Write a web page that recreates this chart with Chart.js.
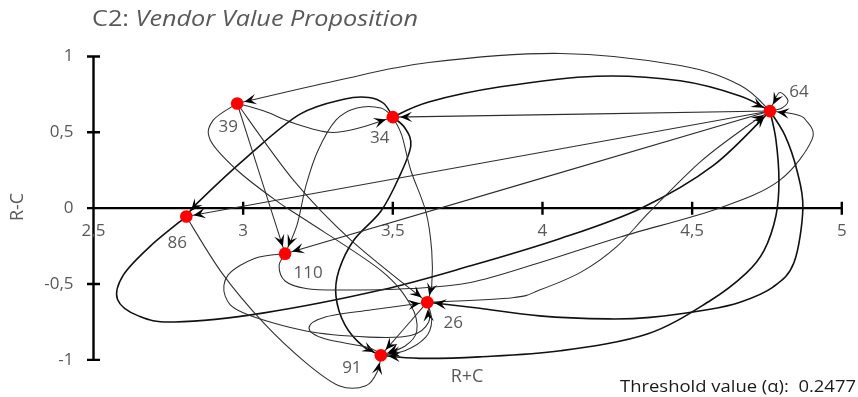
<!DOCTYPE html>
<html>
<head>
<meta charset="utf-8">
<script src="https://cdn.jsdelivr.net/npm/chart.js@4.4.1/dist/chart.umd.min.js"></script>
<style>
  html, body { margin: 0; padding: 0; background: #fff; }
  #wrap { width: 858px; height: 397px; }
</style>
</head>
<body>
<div id="wrap"><canvas id="chartMap"></canvas></div>
<script>
// Criteria (node ids) with their prominence (R+C) and relation (R-C)
const nodeIds = ["39", "34", "64", "86", "110", "26", "91"];
const rPlusC  = [2.98, 3.50, 4.76, 2.81, 3.14, 3.615, 3.46];
const rMinusC = [0.69, 0.60, 0.64, -0.055, -0.30, -0.62, -0.97];

const xTicks = [2.5, 3, 3.5, 4, 4.5, 5];
const yTicks = [-1, -0.5, 0, 0.5, 1];

// Influence relations above the threshold (from -> to)
const edgeFrom = ["64", "34", "64", "39", "34", "34", "34", "34", "64", "64", "86", "110",
                  "26", "64", "64", "64", "39", "39", "39", "86", "110", "91", "26", "26"];
const edgeTo   = ["39", "64", "34", "34", "86", "110", "91", "26", "86", "110", "64", "64",
                  "64", "26", "91", "64", "110", "26", "91", "91", "26", "26", "91", "91"];
const edgeStrong = [false, true, false, false, true, false, true, false, false, false, true, false,
                    false, true, true, false, false, false, false, false, false, false, false, false];
// Intermediate (R+C, R-C) points each curved relation passes through
const edgeBends = [
  [[4.66, 0.81], [4.46, 0.94], [4.06, 1.02], [3.62, 0.96], [3.31, 0.84]],
  [[3.62, 0.70], [3.86, 0.80], [4.18, 0.87], [4.46, 0.84], [4.66, 0.74]],
  [],
  [[3.07, 0.64], [3.17, 0.56], [3.29, 0.50], [3.39, 0.53]],
  [[3.47, 0.69], [3.42, 0.73], [3.34, 0.72], [3.19, 0.62], [3.02, 0.35], [2.85, 0.04]],
  [[3.46, 0.66], [3.38, 0.66], [3.31, 0.58], [3.25, 0.38], [3.21, 0.15], [3.18, -0.11]],
  [[3.54, 0.53], [3.56, 0.41], [3.52, 0.20], [3.46, -0.02], [3.37, -0.21], [3.32, -0.41], [3.31, -0.58], [3.34, -0.77], [3.40, -0.91]],
  [[3.53, 0.48], [3.56, 0.25], [3.61, -0.02], [3.63, -0.28], [3.63, -0.51]],
  [],
  [],
  [[2.69, -0.25], [2.60, -0.44], [2.58, -0.60], [2.65, -0.71], [2.77, -0.75], [3.07, -0.69], [3.46, -0.54], [3.76, -0.38], [4.06, -0.20], [4.33, 0.00], [4.57, 0.28]],
  [[3.12, -0.38], [3.14, -0.48], [3.21, -0.53], [3.32, -0.54], [3.56, -0.53], [3.76, -0.49], [3.99, -0.36], [4.26, -0.19], [4.59, 0.00], [4.79, 0.18], [4.90, 0.45], [4.88, 0.58], [4.84, 0.62]],
  [[3.90, -0.59], [3.99, -0.54], [4.13, -0.42], [4.25, -0.25], [4.36, -0.02], [4.53, 0.31], [4.69, 0.55]],
  [[4.81, 0.48], [4.85, 0.25], [4.87, 0.00], [4.84, -0.36], [4.77, -0.52], [4.66, -0.62], [4.55, -0.67], [4.36, -0.72], [4.22, -0.73], [3.99, -0.71], [3.79, -0.66], [3.66, -0.63]],
  [[4.78, 0.45], [4.79, 0.18], [4.78, -0.05], [4.74, -0.28], [4.68, -0.43], [4.56, -0.61], [4.35, -0.83], [4.06, -0.94], [3.79, -0.98], [3.59, -0.99]],
  [[4.80, 0.66], [4.82, 0.71], [4.79, 0.76]],
  [],
  [[3.17, 0.18], [3.36, -0.21]],
  [[2.90, 0.58], [2.89, 0.45], [2.98, 0.25], [3.11, 0.05], [3.21, -0.08], [3.46, -0.41], [3.56, -0.64], [3.58, -0.81], [3.54, -0.91]],
  [[2.93, -0.43], [3.07, -0.76], [3.21, -1.02], [3.32, -1.17], [3.41, -1.17], [3.45, -1.07]],
  [[3.04, -0.33], [2.95, -0.44], [2.94, -0.58], [3.00, -0.69], [3.21, -0.81], [3.42, -0.85], [3.56, -0.84], [3.62, -0.75]],
  [[3.42, -0.92], [3.27, -0.86], [3.22, -0.79], [3.27, -0.72], [3.43, -0.67]],
  [],
  [[3.63, -0.74], [3.61, -0.85], [3.54, -0.94]],
];

const GREY = "#595959";
const FONT = "'Open Sans', sans-serif";
const NODE_R = 6.3;

function fmt(v) {
  return String(v).replace(".", ",");
}

function nodePixel(id, xs, ys) {
  const i = nodeIds.indexOf(id);
  return [xs.getPixelForValue(rPlusC[i]), ys.getPixelForValue(rMinusC[i])];
}

// smooth curve through the points (Catmull-Rom turned into Bezier pieces)
function strokeSmooth(ctx, pts) {
  ctx.beginPath();
  ctx.moveTo(pts[0][0], pts[0][1]);
  for (let i = 0; i < pts.length - 1; i++) {
    const p0 = pts[Math.max(i - 1, 0)];
    const p1 = pts[i];
    const p2 = pts[i + 1];
    const p3 = pts[Math.min(i + 2, pts.length - 1)];
    ctx.bezierCurveTo(
      p1[0] + (p2[0] - p0[0]) / 6, p1[1] + (p2[1] - p0[1]) / 6,
      p2[0] - (p3[0] - p1[0]) / 6, p2[1] - (p3[1] - p1[1]) / 6,
      p2[0], p2[1]
    );
  }
  ctx.stroke();
}

function drawHead(ctx, tx, ty, ang) {
  const len = 12, half = 5.2, notch = 7;
  ctx.save();
  ctx.translate(tx, ty);
  ctx.rotate(ang);
  ctx.beginPath();
  ctx.moveTo(0, 0);
  ctx.lineTo(-len, -half);
  ctx.lineTo(-notch, 0);
  ctx.lineTo(-len, half);
  ctx.closePath();
  ctx.fill();
  ctx.restore();
}

// text squeezed or widened to a set width
function fitText(ctx, txt, x, y, width) {
  const w = ctx.measureText(txt).width;
  ctx.save();
  ctx.translate(x, y);
  ctx.scale(width / w, 1);
  ctx.fillText(txt, 0, 0);
  ctx.restore();
}

function drawAxes(ctx, xs, ys) {
  const x0 = xs.getPixelForValue(2.5);
  const y0 = ys.getPixelForValue(0);
  ctx.save();
  ctx.strokeStyle = "#000";
  ctx.lineWidth = 2.4;
  ctx.beginPath();
  ctx.moveTo(x0, ys.getPixelForValue(1));
  ctx.lineTo(x0, ys.getPixelForValue(-1));
  ctx.moveTo(x0, y0);
  ctx.lineTo(xs.getPixelForValue(5), y0);
  yTicks.forEach(v => {
    const py = ys.getPixelForValue(v);
    ctx.moveTo(x0 - 6.5, py);
    ctx.lineTo(x0 + 6.5, py);
  });
  xTicks.forEach(v => {
    if (v === 2.5) return;
    const px = xs.getPixelForValue(v);
    ctx.moveTo(px, y0 - 6.5);
    ctx.lineTo(px, y0 + 6.5);
  });
  ctx.stroke();

  ctx.fillStyle = GREY;
  ctx.font = "17px " + FONT;
  ctx.textBaseline = "middle";
  ctx.textAlign = "right";
  yTicks.forEach(v => ctx.fillText(fmt(v), x0 - 20, ys.getPixelForValue(v)));
  ctx.textAlign = "center";
  xTicks.forEach(v => ctx.fillText(fmt(v), xs.getPixelForValue(v), y0 + 23));
  ctx.restore();
}

function drawEdges(ctx, xs, ys) {
  ctx.save();
  ctx.lineJoin = "round";
  edgeFrom.forEach((from, i) => {
    const a = nodePixel(from, xs, ys);
    const b = nodePixel(edgeTo[i], xs, ys);
    const pts = [a].concat(edgeBends[i].map(p => [xs.getPixelForValue(p[0]), ys.getPixelForValue(p[1])]), [b]);
    ctx.strokeStyle = edgeStrong[i] ? "#111" : "#2e2e2e";
    ctx.lineWidth = edgeStrong[i] ? 1.6 : 1.05;
    strokeSmooth(ctx, pts);
    const prev = pts[pts.length - 2];
    const ang = Math.atan2(b[1] - prev[1], b[0] - prev[0]);
    ctx.fillStyle = "#000";
    drawHead(ctx, b[0] - Math.cos(ang) * (NODE_R + 1), b[1] - Math.sin(ang) * (NODE_R + 1), ang);
  });
  ctx.restore();
}

// where each node's id sits relative to the dot
const labelShift = {
  "39": [-9, 24], "34": [-13, 21], "64": [29, -19], "86": [-9, 27],
  "110": [23, 19], "26": [26, 21], "91": [-29, 13]
};

const mapDecor = {
  id: "mapDecor",
  beforeDatasetsDraw(chart) {
    const { ctx, scales } = chart;
    drawAxes(ctx, scales.x, scales.y);
    drawEdges(ctx, scales.x, scales.y);
  },
  afterDatasetsDraw(chart) {
    const { ctx, scales } = chart;
    ctx.save();
    ctx.fillStyle = GREY;
    ctx.font = "17px " + FONT;
    ctx.textAlign = "center";
    ctx.textBaseline = "middle";
    nodeIds.forEach(id => {
      const p = nodePixel(id, scales.x, scales.y);
      const s = labelShift[id];
      ctx.fillText(id, p[0] + s[0], p[1] + s[1]);
    });

    // title: plain code, italic name
    ctx.textAlign = "left";
    ctx.font = "22px " + FONT;
    const head = "C2: ";
    const hw = ctx.measureText(head).width;
    ctx.font = "italic 22px " + FONT;
    const tw = ctx.measureText("Vendor Value Proposition").width;
    const k = 326 / (hw + tw);
    ctx.font = "22px " + FONT;
    fitText(ctx, head, 92, 20, hw * k);
    ctx.font = "italic 22px " + FONT;
    fitText(ctx, "Vendor Value Proposition", 92 + hw * k, 20, tw * k);

    // axis names
    ctx.font = "18px " + FONT;
    ctx.textAlign = "center";
    ctx.fillText("R+C", 467, 377);
    ctx.save();
    ctx.translate(18, 207);
    ctx.rotate(-Math.PI / 2);
    ctx.fillText("R-C", 0, 0);
    ctx.restore();

    ctx.fillStyle = "#1a1a1a";
    ctx.textAlign = "left";
    ctx.font = "17px " + FONT;
    fitText(ctx, "Threshold value (\u03b1):  0.2477", 620, 387, 236);
    ctx.restore();
  }
};

new Chart(document.getElementById("chartMap"), {
  type: "scatter",
  data: {
    datasets: [{
      data: nodeIds.map((id, i) => ({ x: rPlusC[i], y: rMinusC[i] })),
      backgroundColor: "#ff0000",
      borderWidth: 0,
      pointRadius: NODE_R,
      pointHoverRadius: NODE_R,
    }],
  },
  options: {
    responsive: true,
    maintainAspectRatio: false,
    animation: false,
    layout: { padding: { left: 93.5, right: 16.2, top: 41.3, bottom: 6.8 } },
    plugins: {
      legend: { display: false },
      tooltip: { enabled: false },
    },
    scales: {
      x: { type: "linear", min: 2.5, max: 5, display: false },
      y: { type: "linear", min: -1.2, max: 1.1, display: false },
    },
  },
  plugins: [mapDecor],
});
</script>
</body>
</html>
